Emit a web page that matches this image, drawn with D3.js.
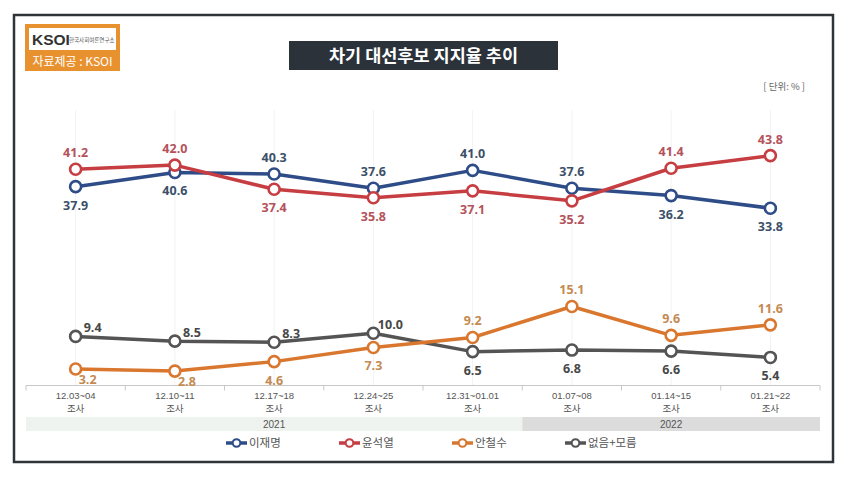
<!DOCTYPE html>
<html><head><meta charset="utf-8">
<script src="https://cdn.jsdelivr.net/npm/d3@7"></script>
<style>body{margin:0;background:#fff;} svg{display:block;font-family:"Noto Sans CJK KR","Noto Sans",sans-serif;}</style>
</head><body>
<svg id="c" width="850" height="483"></svg>
<script>
const categories = ["12.03~04","12.10~11","12.17~18","12.24~25","12.31~01.01","01.07~08","01.14~15","01.21~22"];
const subLabel = "조사";
const seriesNames = ["이재명","윤석열","안철수","없음+모름"];
const leeJM = [37.9,40.6,40.3,37.6,41.0,37.6,36.2,33.8];
const yoonSY = [41.2,42.0,37.4,35.8,37.1,35.2,41.4,43.8];
const ahnCS = [3.2,2.8,4.6,7.3,9.2,15.1,9.6,11.6];
const noneDK = [9.4,8.5,8.3,10.0,6.5,6.8,6.6,5.4];
const years = [{label:"2021", from:0, to:5},{label:"2022", from:5, to:8}];
// label placement: 1 = above, -1 = below
const leePos = [-1,-1,1,1,1,1,-1,-1];
const yoonPos = [1,1,-1,-1,-1,-1,1,1];
const ahnPos = [-1,-1,-1,-1,1,1,1,1];
const nonePos = [1,1,1,1,-1,-1,-1,-1];

const svg = d3.select("#c");
// frame
svg.append("rect").attr("x",14).attr("y",15).attr("width",819).attr("height",447)
  .attr("fill","#fff").attr("stroke","#2f3438").attr("stroke-width",2.5);

// logo
const logo = svg.append("g");
logo.append("rect").attr("x",25).attr("y",24).attr("width",95).attr("height",47).attr("fill","#e8922f");
logo.append("rect").attr("x",29).attr("y",28).attr("width",87).attr("height",22).attr("fill","#fff");
logo.append("text").attr("x",32).attr("y",45).attr("font-size",15.5).attr("font-weight",700)
  .attr("fill","#333").attr("font-family","Arial, Liberation Sans, sans-serif").text("KSOI");
logo.append("text").attr("x",69).attr("y",42).attr("font-size",5.5).attr("fill","#555").text("한국사회여론연구소");
logo.append("text").attr("x",72.5).attr("y",66).attr("font-size",12).attr("fill","#fff")
  .attr("text-anchor","middle").text("자료제공 : KSOI");

// title
svg.append("rect").attr("x",289).attr("y",41).attr("width",269).attr("height",29).attr("fill","#2b323a");
svg.append("text").attr("x",423.5).attr("y",61.5).attr("text-anchor","middle").attr("font-size",17.5)
  .attr("font-weight",700).attr("fill","#fff").text("차기 대선후보 지지율 추이");
svg.append("text").attr("x",805).attr("y",90).attr("text-anchor","end").attr("font-size",9.5)
  .attr("fill","#666").text("[ 단위: % ]");

const x = d3.scaleBand().domain(categories).range([26,820]);
const y = d3.scaleLinear().domain([0,55]).range([385.8,96.8]);
const cx = d => x(d) + x.bandwidth()/2;

// faint grid
svg.append("g").selectAll("line").data(categories).join("line")
  .attr("x1",d=>cx(d)).attr("x2",d=>cx(d)).attr("y1",110).attr("y2",385)
  .attr("stroke","#f2f2f2").attr("stroke-width",1);

// axis
const axis = svg.append("g").attr("transform","translate(0,385.5)");
axis.append("line").attr("x1",26).attr("x2",820).attr("stroke","#c8c8c8");
const bounds = categories.map(d=>x(d)).concat([820]);
axis.selectAll("line.t").data(bounds).join("line").attr("class","t")
  .attr("x1",d=>d).attr("x2",d=>d).attr("y1",0).attr("y2",5).attr("stroke","#c8c8c8");
svg.append("g").selectAll("text").data(categories).join("text")
  .attr("x",d=>cx(d)).attr("y",399).attr("text-anchor","middle").attr("font-size",9.5)
  .attr("font-family","Liberation Sans, Arial, sans-serif").attr("fill","#555").text(d=>d);
svg.append("g").selectAll("text").data(categories).join("text")
  .attr("x",d=>cx(d)).attr("y",412).attr("text-anchor","middle").attr("font-size",9.5)
  .attr("fill","#555").text(subLabel);

// year band
const yb = svg.append("g");
yb.selectAll("rect").data(years).join("rect")
  .attr("x",d=>x(categories[d.from])).attr("y",417)
  .attr("width",d=>(d.to<categories.length?x(categories[d.to]):820)-x(categories[d.from]))
  .attr("height",14).attr("fill",(d,i)=>i===0?"#eff3ef":"#dcdcdc");
yb.selectAll("text").data(years).join("text")
  .attr("x",d=>(x(categories[d.from])+(d.to<categories.length?x(categories[d.to]):820))/2)
  .attr("y",428).attr("text-anchor","middle").attr("font-size",10).attr("fill","#555")
  .attr("font-family","Liberation Sans, Arial, sans-serif").text(d=>d.label);

const series = [
  {name:seriesNames[0], vals:leeJM, pos:leePos, color:"#2e4c87", lc:"#3b5069"},
  {name:seriesNames[1], vals:yoonSY, pos:yoonPos, color:"#c63d42", lc:"#b4525b"},
  {name:seriesNames[2], vals:ahnCS, pos:ahnPos, color:"#d9772f", lc:"#c48a52"},
  {name:seriesNames[3], vals:noneDK, pos:nonePos, color:"#545454", lc:"#474747"}
];
const line = d3.line().x((d,i)=>cx(categories[i])).y(d=>y(d));
const order = [3,2,0,1];
order.forEach(k=>{
  const s = series[k];
  const g = svg.append("g");
  g.append("path").datum(s.vals).attr("d",line).attr("fill","none")
    .attr("stroke",s.color).attr("stroke-width",3.5).attr("stroke-linejoin","round");
  g.selectAll("circle").data(s.vals).join("circle")
    .attr("cx",(d,i)=>cx(categories[i])).attr("cy",d=>y(d)).attr("r",5.5)
    .attr("fill","#fff").attr("stroke",s.color).attr("stroke-width",2.6);
});
series.forEach((s,k)=>{
  svg.append("g").selectAll("text").data(s.vals).join("text")
    .attr("x",(d,i)=>{
      let dx=0;
      if(k===3 && s.pos[i]===1) dx=17;
      if(k===2 && i<2) dx=12;
      return cx(categories[i])+dx;
    })
    .attr("y",(d,i)=>{
      if(k===3 && s.pos[i]===1) return y(d)-4;
      if(k===2 && i<2) return y(d)+15;
      return s.pos[i]===1 ? y(d)-12 : y(d)+23;
    })
    .attr("text-anchor","middle").attr("font-size",12.5).attr("font-weight",700)
    .attr("fill",s.lc).attr("font-family","Open Sans, Noto Sans, sans-serif").text(d=>d.toFixed(1));
});

// legend
const legX = [226,339,452,565];
const leg = svg.append("g").selectAll("g").data(series).join("g")
  .attr("transform",(d,i)=>`translate(${legX[i]},443)`);
leg.append("line").attr("x1",0).attr("x2",21).attr("stroke",d=>d.color).attr("stroke-width",3.5);
leg.append("circle").attr("cx",10.5).attr("r",3.8).attr("fill","#fff").attr("stroke",d=>d.color).attr("stroke-width",2);
leg.append("text").attr("x",23).attr("y",4).attr("font-size",11.5).attr("fill","#555").text(d=>d.name);
</script>
</body></html>
